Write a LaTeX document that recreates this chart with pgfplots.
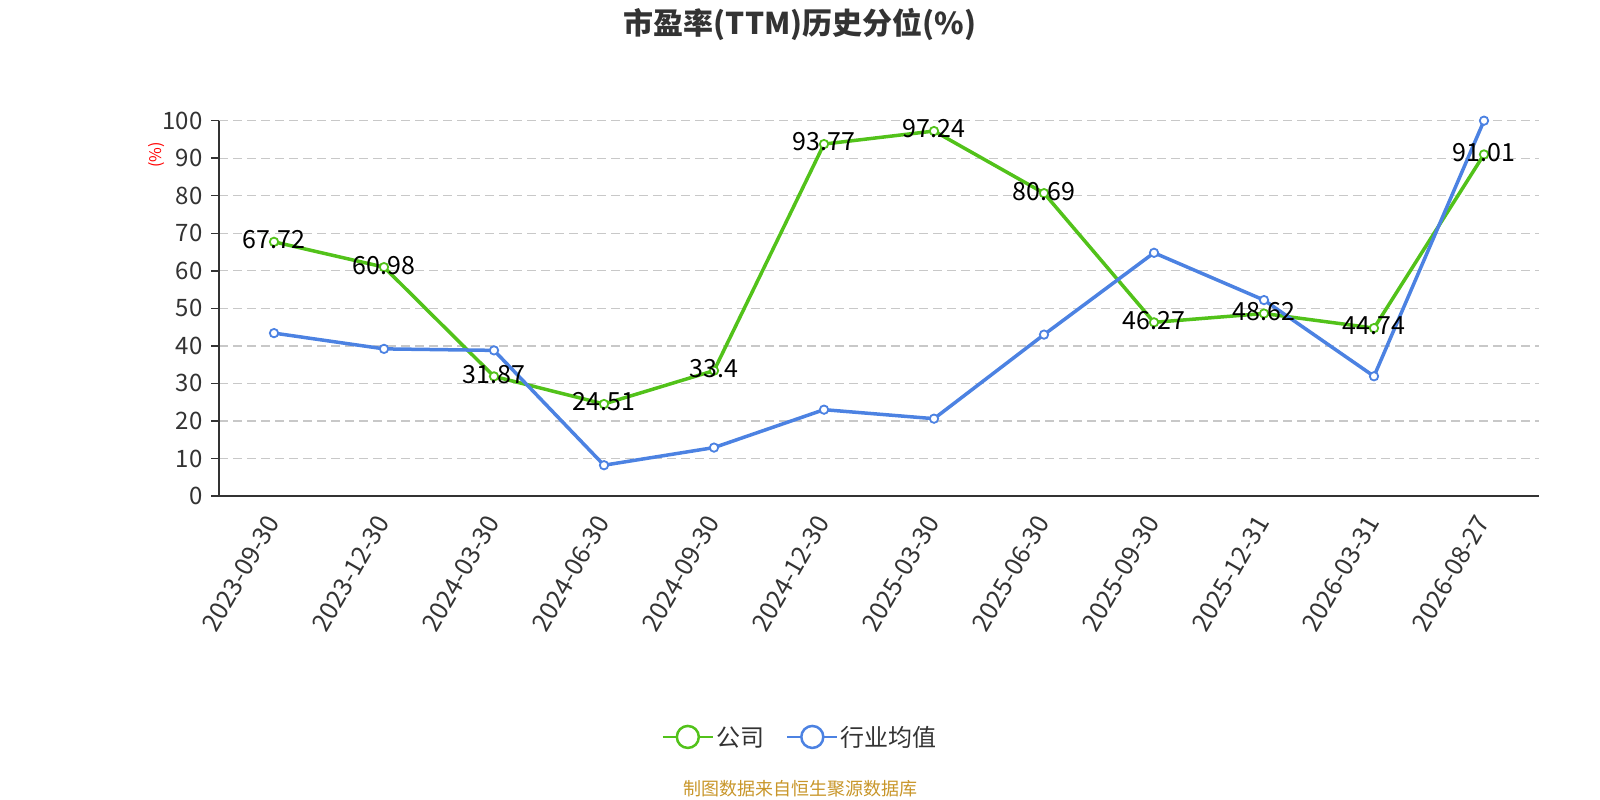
\documentclass[border=0pt]{standalone}
\usepackage{pgfplots}
\pgfplotsset{compat=1.18}
\usepackage{pgfplotstable}
\usepackage{fontspec}
\setmainfont{Noto Sans CJK SC}
\definecolor{cgreen}{RGB}{82,194,26}
\definecolor{cblue}{RGB}{76,130,226}
\definecolor{ctext}{RGB}{51,51,51}
\definecolor{cgrid}{RGB}{200,200,200}
\definecolor{cfoot}{RGB}{200,150,42}

\pgfplotstableread{
x y lab
0 67.72 67.72
1 60.98 60.98
2 31.87 31.87
3 24.51 24.51
4 33.4 33.4
5 93.77 93.77
6 97.24 97.24
7 80.69 80.69
8 46.27 46.27
9 48.62 48.62
10 44.74 44.74
11 91.01 91.01
}\company
\pgfplotstableread{
x y
0 43.4
1 39.2
2 38.8
3 8.2
4 12.9
5 23.0
6 20.6
7 43.0
8 64.8
9 52.2
10 31.9
11 100.0
}\industry

\begin{document}
\begin{tikzpicture}[x=1bp,y=1bp]
\path[use as bounding box] (0,0) rectangle (1600,800);
\node[font=\fontsize{30bp}{34bp}\selectfont\bfseries, text=ctext] at (800,776) {市盈率(TTM)历史分位(\%)};
\node[font=\fontsize{18bp}{20bp}\selectfont, text=cfoot] at (800,11) {制图数据来自恒生聚源数据库};
\begin{axis}[
  at={(219bp,304bp)}, anchor=south west,
  scale only axis, width=1320bp, height=375.3bp,
  xmin=-0.5, xmax=11.5, ymin=0, ymax=100,
  axis lines*=left,
  axis line style={ctext, line width=1.5bp, -},
  xtick={0,...,11},
  xticklabels={2023-09-30,2023-12-30,2024-03-30,2024-06-30,2024-09-30,2024-12-30,2025-03-30,2025-06-30,2025-09-30,2025-12-31,2026-03-31,2026-08-27},
  x tick style={draw=none},
  extra x ticks={-0.5,0.5,...,11.5},
  extra x tick labels={},
  extra x tick style={grid=none, major tick length=8bp, tick align=outside, tick style={ctext, line width=1.5bp, draw=ctext}},
  xticklabel style={rotate=60, anchor=east, font=\fontsize{25bp}{27bp}\selectfont, text=ctext, yshift=-6bp, xshift=-9bp},
  ytick={0,10,...,100},
  y tick style={ctext, line width=1.5bp},
  tick align=outside, major tick length=8bp,
  yticklabel style={font=\fontsize{24bp}{26bp}\selectfont, text=ctext, xshift=-5bp},
  /pgf/number format/assume math mode=true,
  ymajorgrids, major grid style={cgrid, line width=1.3bp, dash pattern=on 9bp off 5bp},
  ylabel={(\%)}, ylabel style={at={(rel axis cs:-0.047,0.909)}, anchor=center, text=red, font=\fontsize{16bp}{18bp}\selectfont},
  legend columns=2,
  legend style={at={(rel axis cs:0.4402,-0.642)}, anchor=center, draw=none, fill=none,
    font=\fontsize{24bp}{26bp}\selectfont, text=ctext,
    /tikz/every even column/.append style={column sep=20bp}},
  legend image code/.code={
    \draw[#1, mark=none, line width=2.5bp] (0bp,0bp) -- (50bp,0bp);
    \draw[#1, mark=none, line width=2.5bp, fill=white] (25bp,0bp) circle (11bp);
  },
  clip=false,
]
\addplot[cgreen, line width=3.5bp, mark=*, mark size=4.2bp, mark options={fill=white, line width=1.8bp},
  point meta=explicit symbolic, nodes near coords,
  nodes near coords style={anchor=center, text=black, font=\fontsize{25bp}{27bp}\selectfont, yshift=2bp}]
  table[x=x, y=y, meta=lab] {\company};
\addlegendentry{公司}
\addplot[cblue, line width=3.5bp, mark=*, mark size=4.2bp, mark options={fill=white, line width=1.8bp}]
  table[x=x, y=y] {\industry};
\addlegendentry{行业均值}
\end{axis}
\end{tikzpicture}
\end{document}
